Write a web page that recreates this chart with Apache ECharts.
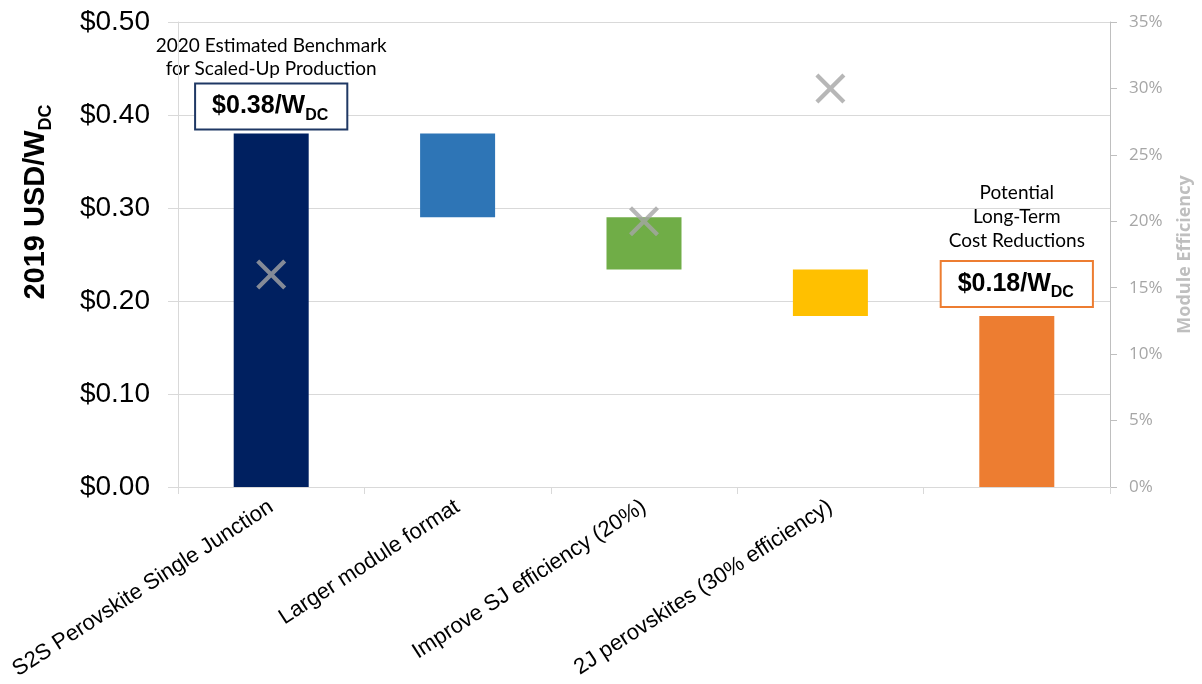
<!DOCTYPE html>
<html>
<head>
<meta charset="utf-8">
<script src="https://cdn.jsdelivr.net/npm/echarts@6/dist/echarts.min.js"></script>
<style>
  html, body { margin: 0; padding: 0; background: #fff; }
  #chart { width: 1202px; height: 684px; }
</style>
</head>
<body>
<div id="chart"></div>
<script>
// Cost-reduction steps from today's benchmark to the long-term target
const categories = [
  'S2S Perovskite Single Junction',
  'Larger module format',
  'Improve SJ efficiency (20%)',
  '2J perovskites (30% efficiency)',
  ''
];
const benchmarkCost = 0.38;                 // 2019 USD/W_DC
const stepReductions = [0.09, 0.056, 0.05]; // cost removed by each step
const moduleEfficiency = [16, null, 20, 30, null]; // percent
const barColors = ['#002060', '#2e75b6', '#70ad47', '#ffc000', '#ed7d31'];
const benchmarkCaption = ['2020 Estimated Benchmark', 'for Scaled-Up Production'];
const targetCaption = ['Potential', 'Long-Term', 'Cost Reductions'];

// Waterfall: invisible base + visible segment
const baseData = [0];
const segData = [benchmarkCost];
let running = benchmarkCost;
stepReductions.forEach(r => {
  running -= r;
  baseData.push(running);
  segData.push(r);
});
baseData.push(0);
segData.push(running);

const lastIdx = segData.length - 1;

function costBoxLabel(color, distance) {
  return {
    show: true,
    position: 'top',
    distance: distance,
    formatter: p => '{v|$' + p.value.toFixed(2) + '/W}{s|DC}',
    backgroundColor: '#fff',
    borderColor: color,
    borderWidth: 2,
    padding: [5, 18, 5, 16],
    rich: {
      v: { fontFamily: 'Arial', fontWeight: 'bold', fontSize: 25, color: '#000', lineHeight: 34 },
      s: { fontFamily: 'Arial', fontWeight: 'bold', fontSize: 16, color: '#000', lineHeight: 16, verticalAlign: 'bottom' }
    }
  };
}

const segItems = segData.map((v, i) => {
  const item = { value: v, itemStyle: { color: barColors[i] } };
  if (i === 0) item.label = costBoxLabel('#1f3864', 5);
  if (i === lastIdx) item.label = costBoxLabel('#ed7d31', 10);
  return item;
});

// Thick "X" marker
const crossPath = 'path://M10,0L50,40L90,0L100,10L60,50L100,90L90,100L50,60L10,100L0,90L40,50L0,10Z';

const chart = echarts.init(document.getElementById('chart'), null, { renderer: 'canvas' });

const option = {
  animation: false,
  backgroundColor: '#fff',
  grid: { left: 178, right: 92, top: 22, bottom: 197, outerBoundsMode: 'none', containLabel: false },
  xAxis: {
    type: 'category',
    data: categories,
    boundaryGap: true,
    axisLine: { show: true, lineStyle: { color: '#d9d9d9', width: 1 } },
    axisTick: { show: true, length: 7, lineStyle: { color: '#d9d9d9' } },
    axisLabel: {
      interval: 0,
      rotate: 33,
      margin: 18,
      fontFamily: 'Arial',
      fontSize: 22,
      color: '#000'
    }
  },
  yAxis: [
    {
      type: 'value',
      min: 0,
      max: 0.5,
      interval: 0.1,
      axisLine: { show: true, lineStyle: { color: '#d9d9d9' } },
      axisTick: { show: true, length: 10, lineStyle: { color: '#d9d9d9' } },
      splitLine: { show: true, lineStyle: { color: '#d9d9d9', width: 1 } },
      axisLabel: {
        margin: 28,
        fontFamily: 'Arial',
        fontSize: 28,
        color: '#000',
        formatter: v => '$' + v.toFixed(2)
      }
    },
    {
      type: 'value',
      min: 0,
      max: 35,
      interval: 5,
      position: 'right',
      name: 'Module Efficiency',
      nameLocation: 'middle',
      nameGap: 66,
      nameRotate: 90,
      nameTextStyle: { fontFamily: 'Open Sans', fontWeight: 'bold', fontSize: 18, color: '#bfbfbf' },
      axisLine: { show: true, lineStyle: { color: '#bfbfbf' } },
      axisTick: { show: true, length: 7, lineStyle: { color: '#bfbfbf' } },
      splitLine: { show: false },
      axisLabel: {
        margin: 19,
        fontFamily: 'Open Sans',
        fontSize: 17,
        color: '#a6a6a6',
        formatter: v => v + '%'
      }
    }
  ],
  series: [
    {
      name: 'base',
      type: 'bar',
      stack: 'cost',
      silent: true,
      barWidth: 75,
      itemStyle: { color: 'transparent' },
      data: baseData
    },
    {
      name: 'cost',
      type: 'bar',
      stack: 'cost',
      barWidth: 75,
      data: segItems
    },
    {
      name: 'efficiency',
      type: 'scatter',
      yAxisIndex: 1,
      symbol: crossPath,
      symbolSize: 30,
      itemStyle: { color: '#a5a5a5' },
      data: moduleEfficiency
    }
  ]
};

chart.setOption(option);

// Captions and the axis title, positioned from the data coordinates
const capFont = { fontFamily: 'Lato', fontSize: 19, fill: '#000' };
const p0 = chart.convertToPixel({ gridIndex: 0 }, [0, benchmarkCost]);
const pN = chart.convertToPixel({ gridIndex: 0 }, [lastIdx, running]);

const graphics = [];
benchmarkCaption.forEach((t, i) => {
  graphics.push({
    type: 'text',
    x: p0[0],
    y: 46 + i * 23,
    style: Object.assign({ text: t, textAlign: 'center', textVerticalAlign: 'middle' }, capFont)
  });
});
targetCaption.forEach((t, i) => {
  graphics.push({
    type: 'text',
    x: pN[0],
    y: 193 + i * 24,
    style: Object.assign({ text: t, textAlign: 'center', textVerticalAlign: 'middle' }, capFont)
  });
});
graphics.push({
  type: 'text',
  x: 36,
  y: 202,
  rotation: Math.PI / 2,
  style: {
    text: '{a|2019 USD/W}{b|DC}',
    textAlign: 'center',
    textVerticalAlign: 'middle',
    rich: {
      a: { fontFamily: 'Arial', fontWeight: 'bold', fontSize: 29, fill: '#000', lineHeight: 38 },
      b: { fontFamily: 'Arial', fontWeight: 'bold', fontSize: 18, fill: '#000', lineHeight: 18, verticalAlign: 'bottom' }
    }
  }
});

chart.setOption({ graphic: graphics });
</script>
</body>
</html>
